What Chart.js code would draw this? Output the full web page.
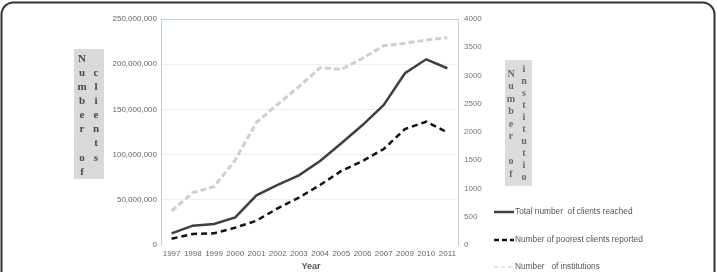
<!DOCTYPE html>
<html>
<head>
<meta charset="utf-8">
<script src="https://cdn.jsdelivr.net/npm/chart.js@4"></script>
<style>
    html, body { margin: 0; padding: 0; background: #fff; overflow: hidden; }
    #wrap { width: 717px; height: 272px; position: relative; }
</style>
</head>
<body>
<div id="wrap"><canvas id="chart" width="717" height="272"></canvas></div>
<script>
// Data
const years = ['1997', '1998', '1999', '2000', '2001', '2002', '2003', '2004', '2005', '2006', '2007', '2009', '2010', '2011'];
const totalClients = [12.9e6, 21.4e6, 23.2e6, 30.6e6, 55e6, 66.4e6, 77e6, 92.9e6, 112.5e6, 132.7e6, 154.9e6, 190e6, 205.4e6, 195.5e6];
const poorestClients = [7e6, 12.2e6, 12.9e6, 19.2e6, 26.9e6, 40.6e6, 52.4e6, 66.4e6, 81.9e6, 92.9e6, 106.2e6, 128.3e6, 136.4e6, 124.7e6];
const institutions = [602, 926, 1032, 1504, 2171, 2490, 2802, 3138, 3110, 3304, 3527, 3570, 3628, 3669];
const legendLabels = ['Total number  of clients reached', 'Number of poorest clients reported', 'Number   of institutions'];

const axisBlue = '#bcd3de';

// Frame, axis title boxes, legend and "Year"
const decorPlugin = {
    id: 'decor',
    afterDraw(chart) {
        const ctx = chart.ctx;
        ctx.save();

        // rounded frame
        ctx.strokeStyle = '#333';
        ctx.lineWidth = 2;
        ctx.beginPath();
        ctx.roundRect(1.5, 2.5, 713, 300, 12);
        ctx.stroke();

        // left title box
        ctx.fillStyle = '#d9d9d9';
        ctx.fillRect(74, 49, 30, 130);
        ctx.fillStyle = '#4a4a4a';
        ctx.font = 'bold 11px "Liberation Serif"';
        ctx.textAlign = 'center';
        ctx.textBaseline = 'middle';
        'Number of'.split('').forEach((c, i) => ctx.fillText(c, 82, 59 + i * 14.1));
        ' clients'.split('').forEach((c, i) => ctx.fillText(c, 96, 59 + i * 14.1));

        // right title box
        ctx.fillStyle = '#dcdcdc';
        ctx.fillRect(505, 60, 27, 126);
        ctx.fillStyle = '#6a6a6a';
        ctx.font = 'bold 10px "Liberation Serif"';
        'Number of'.split('').forEach((c, i) => ctx.fillText(c, 511, 74 + i * 12.5));
        'institutio'.split('').forEach((c, i) => ctx.fillText(c, 524, 69 + i * 12.1));

        // x title
        ctx.fillStyle = '#555';
        ctx.font = 'bold 9px "Liberation Sans"';
        ctx.fillText('Year', 311, 267);

        // legend
        const items = [
            { y: 212, color: '#404040', width: 2.5, dash: [] },
            { y: 240, color: '#111', width: 2.5, dash: [5, 3] },
            { y: 267, color: '#c8c8c8', width: 1, dash: [4, 3] }
        ];
        items.forEach((it, i) => {
            ctx.strokeStyle = it.color;
            ctx.lineWidth = it.width;
            ctx.setLineDash(it.dash);
            ctx.beginPath();
            ctx.moveTo(494, it.y);
            ctx.lineTo(514, it.y);
            ctx.stroke();
            ctx.setLineDash([]);
            ctx.fillStyle = '#555';
            ctx.font = '8.3px "Liberation Sans"';
            ctx.textAlign = 'left';
            ctx.fillText(legendLabels[i], 515, it.y);
        });

        ctx.restore();
    }
};

const ctx = document.getElementById('chart').getContext('2d');
new Chart(ctx, {
    type: 'line',
    data: {
        labels: years,
        datasets: [
            {
                label: legendLabels[0],
                data: totalClients,
                yAxisID: 'y',
                borderColor: '#404040',
                borderWidth: 2.5,
                pointRadius: 0,
                tension: 0
            },
            {
                label: legendLabels[1],
                data: poorestClients,
                yAxisID: 'y',
                borderColor: '#111',
                borderWidth: 2.5,
                borderDash: [6, 4],
                pointRadius: 0,
                tension: 0
            },
            {
                label: legendLabels[2],
                data: institutions,
                yAxisID: 'y1',
                borderColor: '#cfcfcf',
                borderWidth: 3,
                borderDash: [6, 3],
                pointRadius: 0,
                tension: 0
            }
        ]
    },
    options: {
        responsive: false,
        animation: false,
        layout: { padding: { top: 19, left: 0, right: 0, bottom: 0 } },
        plugins: {
            legend: { display: false },
            tooltip: { enabled: false }
        },
        scales: {
            x: {
                offset: true,
                grid: { display: false, drawTicks: false },
                border: { display: false },
                ticks: {
                    color: '#666',
                    font: { family: 'Liberation Sans', size: 8 },
                    padding: 4,
                    maxRotation: 0,
                    autoSkip: false
                },
                afterFit(scale) { scale.height = 27; }
            },
            y: {
                position: 'left',
                min: 0,
                max: 250000000,
                grid: {
                    drawTicks: false,
                    color: c => c.tick.value === 250000000 ? axisBlue : (c.tick.value === 0 ? 'rgba(0,0,0,0)' : '#eeeeee'),
                    lineWidth: 1
                },
                border: { display: true, color: axisBlue },
                ticks: {
                    stepSize: 50000000,
                    color: '#666',
                    font: { family: 'Liberation Sans', size: 8 },
                    padding: 4,
                    callback: v => v.toLocaleString('en-US')
                },
                afterFit(scale) { scale.width = 161; }
            },
            y1: {
                position: 'right',
                min: 0,
                max: 4000,
                grid: { display: false, drawTicks: false },
                border: { display: true, color: axisBlue },
                ticks: {
                    stepSize: 500,
                    color: '#777',
                    font: { family: 'Liberation Sans', size: 8 },
                    padding: 6,
                    callback: v => String(v)
                },
                afterFit(scale) { scale.width = 259; }
            }
        }
    },
    plugins: [decorPlugin]
});
</script>
</body>
</html>
